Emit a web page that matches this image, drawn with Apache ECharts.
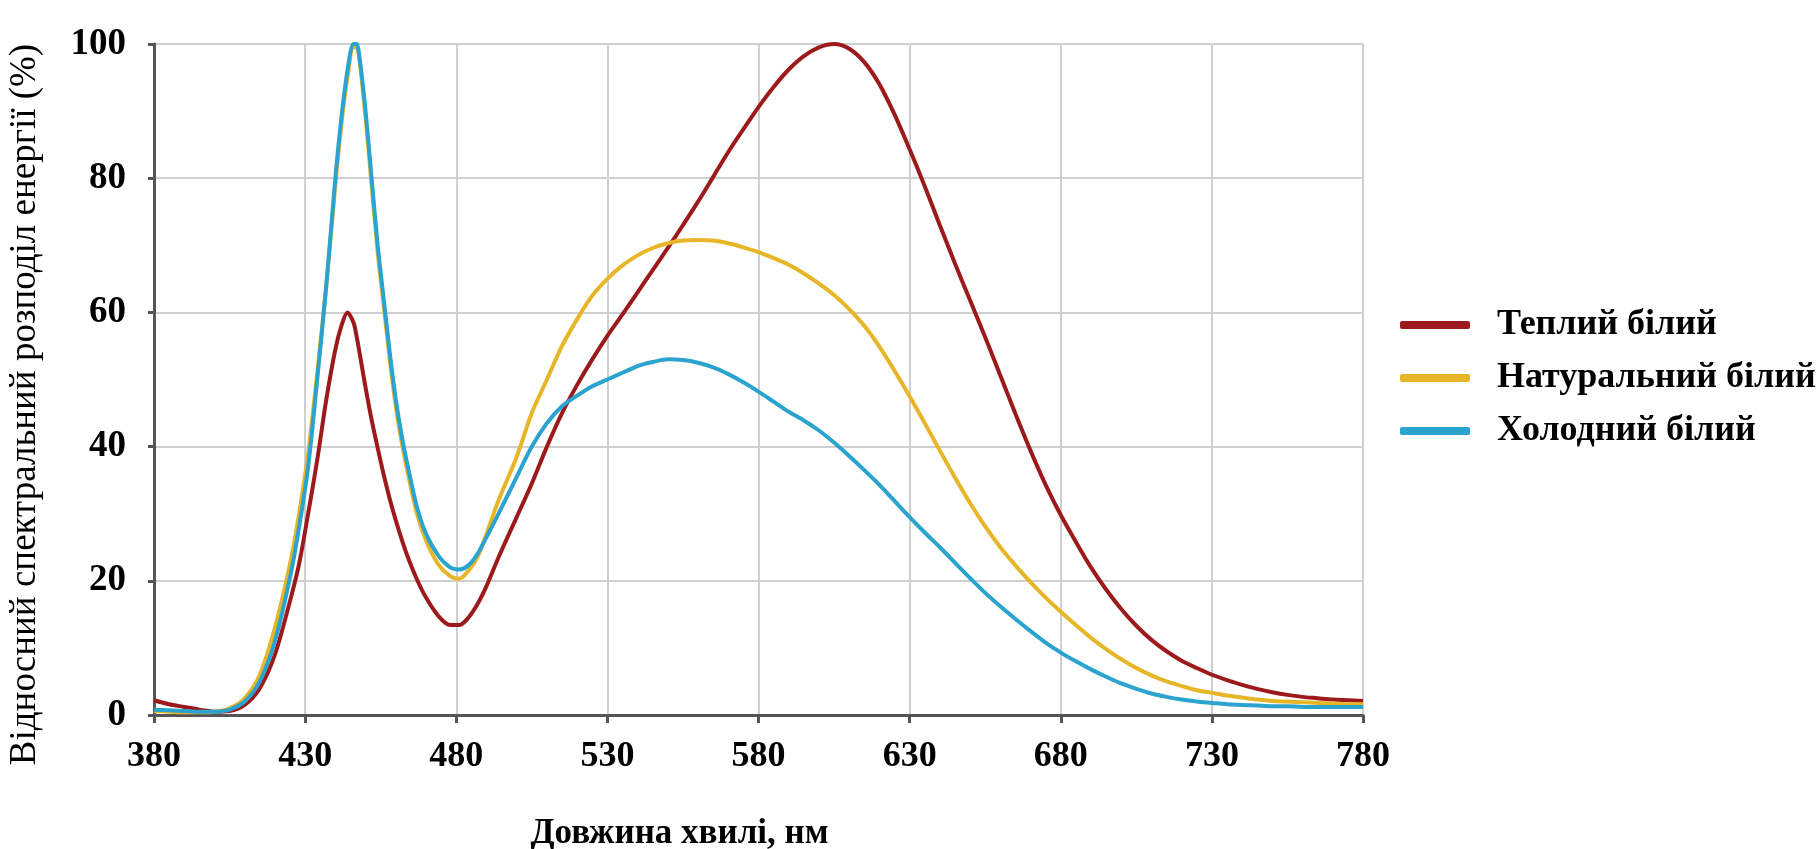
<!DOCTYPE html>
<html>
<head>
<meta charset="utf-8">
<script src="https://cdn.jsdelivr.net/npm/echarts@6/dist/echarts.min.js"></script>
<style>
html,body{margin:0;padding:0;background:#fff;}
#chart{width:1819px;height:849px;}
</style>
</head>
<body>
<div id="chart"></div>
<script>
// Wavelengths (nm)
var wavelengths = [380,385,390,395,400,405,410,415,420,425,428,431,434,437,440,442,444,446,447,448,450,452,454,456,458,460,462,464,467,470,474,478,481,484,487,490,494,500,505,510,515,520,525,530,535,540,545,550,555,560,565,570,575,580,585,590,595,600,605,610,615,620,625,630,635,640,645,650,655,660,665,670,675,680,685,690,695,700,705,710,715,720,725,730,735,740,745,750,755,760,765,770,775,780];

var warmWhite = [2.2,1.6,1.2,0.8,0.5,0.6,1.5,4,9,17,22.5,30,38,47,54.5,58,60,58.5,56.5,54,48.8,44,39.8,35.8,32.2,29,26.1,23.5,20.2,17.5,14.8,13.4,13.4,14.5,16.5,19.2,23.5,29.5,34.5,40,45,49.2,53,56.5,59.7,63,66.3,69.6,73,76.5,80.2,83.9,87.3,90.6,93.6,96.2,98.2,99.5,100,99.3,97.3,94,89.5,84.3,78.8,73,67.3,61.8,56.3,50.6,44.9,39.4,34.3,29.8,25.8,22,18.7,15.8,13.3,11.2,9.5,8.1,7,6,5.2,4.5,3.9,3.4,3,2.7,2.5,2.3,2.2,2.1];

var naturalWhite = [0.6,0.5,0.4,0.4,0.5,1,2.5,6,13,22.5,30,39,51,64,79,88,95,99.5,99.5,97.5,89,79,69,61,53,46,40.5,36,30,26,22.5,20.7,20.3,21.5,23.5,27,32,38.5,45,50,55,59,62.5,65,67,68.5,69.6,70.3,70.7,70.8,70.7,70.3,69.7,69,68.1,67.1,65.8,64.3,62.6,60.5,58,54.9,51.3,47.5,43.5,39.4,35.4,31.6,28.1,25,22.3,19.8,17.5,15.4,13.4,11.5,9.8,8.3,7,5.9,5,4.3,3.7,3.3,2.9,2.6,2.3,2.1,2,1.9,1.8,1.7,1.6,1.6];

var coolWhite = [0.8,0.7,0.6,0.5,0.5,0.8,2,5,11,20.5,28,37,50,64,80,89,96,100,100,98,90,80,70,62,54,47,41.5,37,31,27,23.8,22,21.7,22.3,24,26.5,30,35.5,40,43.5,46,47.6,49,50,51,52,52.6,53,52.9,52.5,51.8,50.8,49.6,48.2,46.7,45.2,43.9,42.4,40.6,38.6,36.5,34.3,31.9,29.5,27.2,25,22.7,20.4,18.2,16.2,14.3,12.5,10.8,9.3,8,6.8,5.7,4.7,3.9,3.2,2.7,2.3,2,1.8,1.6,1.5,1.4,1.3,1.3,1.2,1.2,1.2,1.2,1.2];

var seriesNames = ['Теплий білий','Натуральний білий','Холодний білий'];
var seriesColors = ['#9c1a1c','#e6b628','#2aa3cf'];
var xStart = 380; // first tick label (nm)

function pairs(vals){
  return wavelengths.map(function(w,i){ return [w - xStart, vals[i]]; });
}
var allValues = [warmWhite, naturalWhite, coolWhite];

var chart = echarts.init(document.getElementById('chart'), null, {renderer:'canvas'});
var serif = '"Liberation Serif","Times New Roman",serif';
chart.setOption({
  animation:false,
  backgroundColor:'#fff',
  grid:{left:154,right:456,top:44,bottom:134,containLabel:false,outerBoundsMode:'none'},
  legend:{
    orient:'vertical',
    left:1395, top:302,
    itemWidth:70, itemHeight:8, itemGap:17,
    icon:'roundRect',
    textStyle:{fontFamily:serif,fontWeight:'bold',fontSize:36,color:'#000',padding:[0,0,0,22]},
    data:seriesNames
  },
  xAxis:{
    type:'value', min:0, max:400, interval:50,
    name:'Довжина хвилі, нм', nameLocation:'middle', nameGap:101,
    nameTextStyle:{fontFamily:serif,fontWeight:'bold',fontSize:35,color:'#000',padding:[0,158,0,0]},
    axisLine:{show:true,lineStyle:{color:'#555',width:3}},
    axisTick:{show:true,length:8,lineStyle:{color:'#555',width:3}},
    axisLabel:{margin:24,fontFamily:serif,fontWeight:'bold',fontSize:36,color:'#000',
      formatter:function(v){return String(v + xStart);}},
    splitLine:{show:true,lineStyle:{color:'#cfcfcf',width:2}}
  },
  yAxis:{
    type:'value', min:0, max:100, interval:20,
    name:'Відносний спектральний розподіл енергії (%)', nameLocation:'middle', nameGap:110,
    nameRotate:90,
    nameTextStyle:{fontFamily:serif,fontSize:37,color:'#000',padding:[0,50,0,0]},
    axisLine:{show:true,lineStyle:{color:'#555',width:3}},
    axisTick:{show:true,length:6,lineStyle:{color:'#555',width:3}},
    axisLabel:{margin:28,fontFamily:serif,fontWeight:'bold',fontSize:37,color:'#000'},
    splitLine:{show:true,lineStyle:{color:'#cfcfcf',width:2}}
  },
  series: seriesNames.map(function(n,i){
    return {
      name:n, type:'line', data:pairs(allValues[i]),
      showSymbol:false, symbol:'none', smooth:0.3,
      lineStyle:{color:seriesColors[i],width:4},
      itemStyle:{color:seriesColors[i]},
      z:2+i
    };
  })
});
</script>
</body>
</html>
